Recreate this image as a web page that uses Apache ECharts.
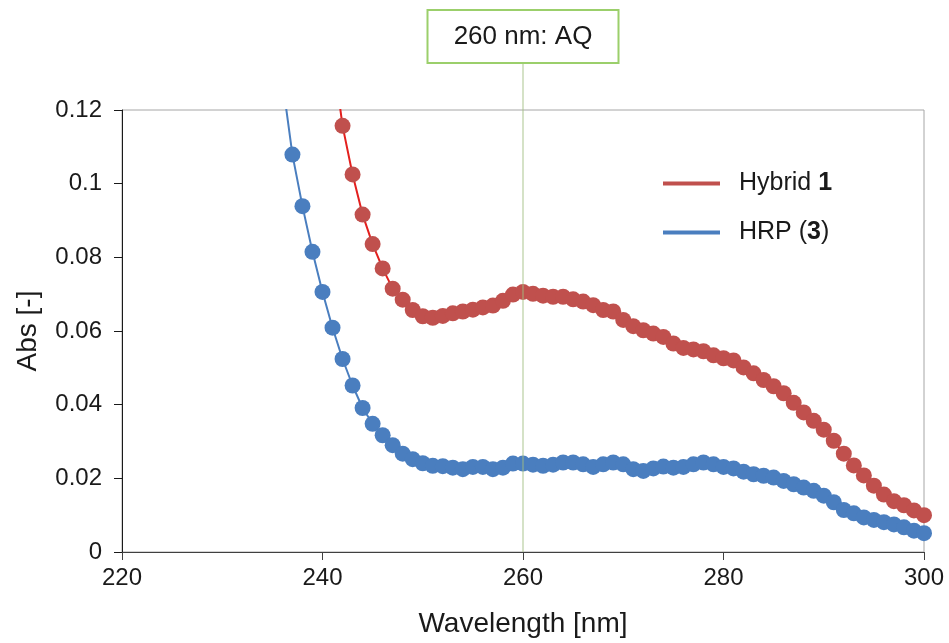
<!DOCTYPE html>
<html>
<head>
<meta charset="utf-8">
<script src="https://cdn.jsdelivr.net/npm/echarts@6/dist/echarts.min.js"></script>
<style>
html,body{margin:0;padding:0;background:#fff;}
#chart{width:949px;height:643px;}
</style>
</head>
<body>
<div id="chart"></div>
<script>
// ---- data ----
const seriesNames = ['Hybrid 1', 'HRP (3)'];
const hybridX = [241,242,243,244,245,246,247,248,249,250,251,252,253,254,255,256,257,258,259,260,261,262,263,264,265,266,267,268,269,270,271,272,273,274,275,276,277,278,279,280,281,282,283,284,285,286,287,288,289,290,291,292,293,294,295,296,297,298,299,300];
const hybridY = [0.136,0.1157,0.1025,0.0916,0.0836,0.0770,0.0715,0.0685,0.0657,0.0640,0.0636,0.0641,0.0648,0.0653,0.0658,0.0664,0.0669,0.0682,0.0699,0.0706,0.0701,0.0696,0.0693,0.0693,0.0686,0.0680,0.0670,0.0657,0.0653,0.0630,0.0613,0.0602,0.0593,0.0584,0.0566,0.0554,0.0550,0.0545,0.0534,0.0526,0.0520,0.0501,0.0485,0.0467,0.0450,0.0431,0.0405,0.0379,0.0356,0.0332,0.0302,0.0267,0.0235,0.0208,0.0180,0.0156,0.0138,0.0127,0.0113,0.0100];
const hrpX = [236,237,238,239,240,241,242,243,244,245,246,247,248,249,250,251,252,253,254,255,256,257,258,259,260,261,262,263,264,265,266,267,268,269,270,271,272,273,274,275,276,277,278,279,280,281,282,283,284,285,286,287,288,289,290,291,292,293,294,295,296,297,298,299,300];
const hrpY = [0.128,0.1079,0.0939,0.0815,0.0706,0.0609,0.0524,0.0452,0.0391,0.0348,0.0317,0.0290,0.0267,0.0252,0.0241,0.0234,0.0233,0.0229,0.0225,0.0231,0.0231,0.0225,0.0229,0.0240,0.0240,0.0237,0.0234,0.0237,0.0243,0.0243,0.0238,0.0231,0.0238,0.0243,0.0238,0.0225,0.0220,0.0227,0.0232,0.0229,0.0231,0.0238,0.0243,0.0238,0.0231,0.0227,0.0218,0.0211,0.0207,0.0202,0.0193,0.0184,0.0175,0.0166,0.0153,0.0135,0.0114,0.0105,0.0094,0.0087,0.0081,0.0075,0.0067,0.0058,0.0051];
const markerWavelength = 260;
const markerLabel = '260 nm: AQ';
const xMin = 220, xMax = 300, xStep = 20;
const yMin = 0, yMax = 0.12, yStep = 0.02;

const FONT = '"Liberation Sans", Arial, sans-serif';
const pairs = (xs, ys) => xs.map((x, i) => [x, ys[i]]);

const chart = echarts.init(document.getElementById('chart'), null, {renderer: 'canvas'});
const option = {
  animation: false,
  backgroundColor: '#ffffff',
  textStyle: {fontFamily: FONT},
  grid: {left: 122, right: 25, top: 110, bottom: 88, show: true, borderColor: '#A6A6A6', borderWidth: 1, backgroundColor: 'transparent'},
  legend: {
    data: seriesNames,
    orient: 'vertical',
    left: 658, top: 166,
    itemWidth: 57, itemHeight: 4, itemGap: 24,
    icon: 'rect',
    formatter: function (name) {
      if (name === 'Hybrid 1') return '{n|Hybrid }{b|1}';
      return '{n|HRP (}{b|3}{n|)}';
    },
    textStyle: {
      fontFamily: FONT, fontSize: 25, color: '#1a1a1a', padding: [0, 0, 0, 14],
      rich: {
        n: {fontFamily: FONT, fontSize: 25, color: '#1a1a1a'},
        b: {fontFamily: FONT, fontSize: 25, fontWeight: 'bold', color: '#1a1a1a'}
      }
    }
  },
  xAxis: {
    type: 'value', min: xMin, max: xMax, interval: xStep,
    name: 'Wavelength [nm]', nameLocation: 'middle', nameGap: 58,
    nameTextStyle: {fontFamily: FONT, fontSize: 28, color: '#1a1a1a'},
    axisLine: {show: true, lineStyle: {color: '#404040', width: 1}},
    axisTick: {show: true, inside: false, length: 8, lineStyle: {color: '#404040'}},
    axisLabel: {fontFamily: FONT, fontSize: 24, color: '#1a1a1a', margin: 14},
    splitLine: {show: false}
  },
  yAxis: {
    type: 'value', min: yMin, max: yMax, interval: yStep,
    name: 'Abs [-]', nameLocation: 'middle', nameGap: 80, nameRotate: 90,
    nameTextStyle: {fontFamily: FONT, fontSize: 28, color: '#1a1a1a'},
    axisLine: {show: true, lineStyle: {color: '#1a1a1a', width: 1}},
    axisTick: {show: true, inside: false, length: 8, lineStyle: {color: '#1a1a1a'}},
    axisLabel: {fontFamily: FONT, fontSize: 24, color: '#1a1a1a', margin: 20,
      formatter: v => String(parseFloat(v.toFixed(4)))},
    splitLine: {show: false}
  },
  series: [
    {
      name: seriesNames[0], type: 'line', data: pairs(hybridX, hybridY),
      symbol: 'circle', symbolSize: 16, clip: true,
      itemStyle: {color: '#C0504D'},
      lineStyle: {color: '#E3201E', width: 2},
      z: 2
    },
    {
      name: seriesNames[1], type: 'line', data: pairs(hrpX, hrpY),
      symbol: 'circle', symbolSize: 16, clip: true,
      itemStyle: {color: '#4A7EBF'},
      lineStyle: {color: '#4A7EBF', width: 2},
      z: 3
    }
  ]
};
chart.setOption(option);

// annotation line + label box, positioned via the chart's own scale
const pBot = chart.convertToPixel({gridIndex: 0}, [markerWavelength, yMin]);
const pTop = chart.convertToPixel({gridIndex: 0}, [markerWavelength, yMax]);
const boxW = 191, boxH = 53, boxTop = 10;
chart.setOption({
  graphic: [
    {
      type: 'line', z: 100, silent: true,
      shape: {x1: pBot[0], y1: boxTop + boxH, x2: pBot[0], y2: pBot[1]},
      style: {stroke: 'rgba(160,190,130,0.6)', lineWidth: 1.5}
    },
    {
      type: 'rect', z: 101, silent: true,
      shape: {x: pTop[0] - boxW / 2, y: boxTop, width: boxW, height: boxH},
      style: {fill: '#ffffff', stroke: '#9BCF6B', lineWidth: 2}
    },
    {
      type: 'text', z: 102, silent: true,
      x: pTop[0], y: boxTop + boxH / 2,
      style: {text: markerLabel, fontFamily: FONT, fontSize: 26, fill: '#1a1a1a', align: 'center', verticalAlign: 'middle'}
    }
  ]
});
</script>
</body>
</html>
